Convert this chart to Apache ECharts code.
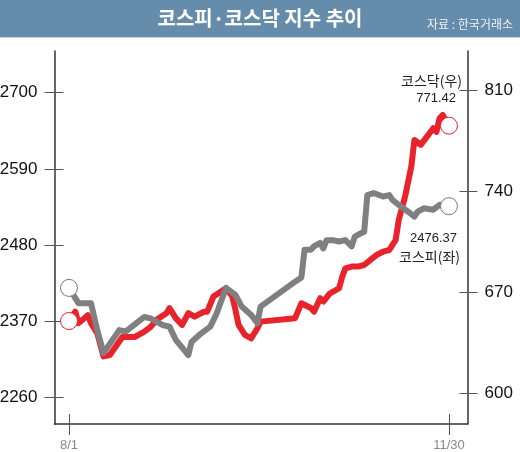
<!DOCTYPE html>
<html>
<head>
<meta charset="utf-8">
<script src="https://cdn.jsdelivr.net/npm/echarts@6/dist/echarts.min.js"></script>
<style>
  html, body { margin: 0; padding: 0; background: #fff; }
  #chart { width: 520px; height: 452px; }
</style>
</head>
<body>
<div id="chart"></div>
<script>
// Days since 8/1 (x) and index values
const kospiDays = [0,3,5,7,9,11,16,18,24,26,30,32,34,38,39,42,45,47,50,53,55,58,60,61,72,74,75,77,78,80,81,82,84,86,88,90,91,93,94,95,97,100,102,103,105,108,110,111,113,116,118,121];
const kospi = [2418,2396,2396,2396,2357,2324,2357,2355,2376,2374,2364,2362,2343,2321,2340,2352,2362,2381,2418,2408,2391,2379,2367,2391,2427,2433,2473,2473,2478,2483,2475,2487,2487,2485,2487,2478,2492,2497,2499,2552,2555,2550,2552,2545,2538,2528,2521,2528,2533,2531,2538,2536];

const kosdaqDays = [0,2,3,6,7,9,11,13,17,21,24,26,28,31,32,34,36,38,40,43,44,46,50,52,53,54,56,58,60,61,72,74,77,78,80,81,83,86,87,88,90,92,94,96,98,100,102,103,104,105,107,109,110,112,114,116,117,118,119,121];
const kosdaq = [650,656.5,648.5,654,648.5,641.5,625.5,626.5,639,639,642.7,646,651,655.4,659,652,647.3,655.4,653,656.5,656.5,667,672.7,667,657.7,647.3,640.4,638,645,649.6,652,662.3,659,656.5,665.8,663.5,669,672.7,680.7,686.5,687.7,687.7,688.8,692.3,695.8,698,699.2,702.7,706,720,736,757,775.4,772,777.7,783.5,781,790.4,792.7,785.3];

const leftTicks = [2260, 2370, 2480, 2590, 2700];
const rightTicks = [600, 670, 740, 810];
const xTickDays = [0, 121];
const xTickLabels = ['8/1', '11/30'];

const titleText = '코스피·코스닥 지수 추이';
const sourceText = '자료 : 한국거래소';
const kosdaqName = '코스닥(우)';
const kosdaqLast = '771.42';
const kospiName = '코스피(좌)';
const kospiLast = '2476.37';

const RED = '#e8232b';
const GRAY = '#808080';
const NUMFONT = '"Liberation Sans", Arial, sans-serif';
const KRFONT = '"Noto Sans CJK KR", sans-serif';

const chart = echarts.init(document.getElementById('chart'), null, { renderer: 'canvas' });

function endSym(n) {
  return function (v, p) { return (p.dataIndex === 0 || p.dataIndex === n - 1) ? 17 : 0; };
}
function plain(v) { return String(v); }

const xRange = { min: -4.62, max: 126.9 };
const leftRange = { min: 2221.4, max: 2760.2 };
const rightRange = { min: 578.7, max: 837.0 };

const option = {
  animation: false,
  backgroundColor: '#fff',
  grid: { left: 54.5, right: 52.5, top: 51, bottom: 28, containLabel: false, outerBoundsMode: 'none' },
  xAxis: [
    {
      type: 'value', position: 'bottom', min: xRange.min, max: xRange.max,
      axisLine: { show: true, onZero: false, lineStyle: { color: '#333', width: 1.5 } },
      axisTick: { show: true, customValues: xTickDays, length: 11, lineStyle: { color: '#555', width: 1 } },
      axisLabel: {
        show: true, customValues: xTickDays, margin: 15, color: '#888', fontSize: 13, fontFamily: NUMFONT,
        formatter: function (v) { const i = xTickDays.indexOf(v); return i >= 0 ? xTickLabels[i] : ''; }
      },
      splitLine: { show: false }
    },
    {
      type: 'value', position: 'bottom', min: xRange.min, max: xRange.max,
      axisLine: { show: false, onZero: false },
      axisTick: { show: true, inside: true, customValues: xTickDays, length: 10, lineStyle: { color: '#555', width: 1 } },
      axisLabel: { show: false },
      splitLine: { show: false }
    }
  ],
  yAxis: [
    {
      type: 'value', position: 'left', min: leftRange.min, max: leftRange.max,
      axisLine: { show: true, onZero: false, lineStyle: { color: '#333', width: 1.5 } },
      axisTick: { show: true, customValues: leftTicks, length: 10, lineStyle: { color: '#555', width: 1 } },
      axisLabel: { show: true, customValues: leftTicks, formatter: plain, margin: 17, color: '#111', fontSize: 17, fontFamily: NUMFONT },
      splitLine: { show: false }
    },
    {
      type: 'value', position: 'right', min: rightRange.min, max: rightRange.max,
      axisLine: { show: true, onZero: false, lineStyle: { color: '#333', width: 1.5 } },
      axisTick: { show: true, customValues: rightTicks, length: 10, lineStyle: { color: '#555', width: 1 } },
      axisLabel: { show: true, customValues: rightTicks, formatter: plain, margin: 17, color: '#111', fontSize: 17, fontFamily: NUMFONT },
      splitLine: { show: false }
    },
    {
      type: 'value', position: 'left', min: leftRange.min, max: leftRange.max,
      axisLine: { show: false, onZero: false },
      axisTick: { show: true, inside: true, customValues: leftTicks, length: 9, lineStyle: { color: '#555', width: 1 } },
      axisLabel: { show: false },
      splitLine: { show: false }
    },
    {
      type: 'value', position: 'right', min: rightRange.min, max: rightRange.max,
      axisLine: { show: false, onZero: false },
      axisTick: { show: true, inside: true, customValues: rightTicks, length: 8, lineStyle: { color: '#555', width: 1 } },
      axisLabel: { show: false },
      splitLine: { show: false }
    }
  ],
  series: [
    {
      name: '코스닥', type: 'line', xAxisIndex: 0, yAxisIndex: 1, z: 2,
      data: kosdaqDays.map(function (d, i) { return [d, kosdaq[i]]; }),
      lineStyle: { color: RED, width: 6, join: 'round', cap: 'round' },
      symbol: 'circle', symbolSize: endSym(kosdaq.length), showSymbol: true, showAllSymbol: true,
      itemStyle: { color: '#fff', borderColor: RED, borderWidth: 1 },
      emphasis: { disabled: true }, silent: true
    },
    {
      name: '코스피', type: 'line', xAxisIndex: 0, yAxisIndex: 0, z: 3,
      data: kospiDays.map(function (d, i) { return [d, kospi[i]]; }),
      lineStyle: { color: GRAY, width: 6, join: 'round', cap: 'round' },
      symbol: 'circle', symbolSize: endSym(kospi.length), showSymbol: true, showAllSymbol: true,
      itemStyle: { color: '#fff', borderColor: '#777', borderWidth: 1 },
      emphasis: { disabled: true }, silent: true
    }
  ],
  graphic: [
    { type: 'rect', z: 0, shape: { x: 0, y: 0, width: 520, height: 37 }, style: { fill: '#658cab' } },
    { type: 'rect', z: 0, shape: { x: 0, y: 37, width: 520, height: 1 }, style: { fill: '#c9d6e0' } },
    { type: 'text', x: 260, y: 18, style: { text: titleText, fill: '#fff', font: 'bold 20px ' + KRFONT, align: 'center', verticalAlign: 'middle' } },
    { type: 'text', x: 513, y: 24, style: { text: sourceText, fill: '#eef3f7', font: '12px ' + KRFONT, align: 'right', verticalAlign: 'middle' } },
    { type: 'text', x: 462, y: 81, style: { text: kosdaqName, fill: '#222', font: '14px ' + KRFONT, align: 'right', verticalAlign: 'middle' } },
    { type: 'text', x: 456, y: 98, style: { text: kosdaqLast, fill: '#222', font: '13px ' + NUMFONT, align: 'right', verticalAlign: 'middle' } },
    { type: 'text', x: 457, y: 238, style: { text: kospiLast, fill: '#222', font: '13px ' + NUMFONT, align: 'right', verticalAlign: 'middle' } },
    { type: 'text', x: 460, y: 257, style: { text: kospiName, fill: '#222', font: '14px ' + KRFONT, align: 'right', verticalAlign: 'middle' } }
  ]
};

chart.setOption(option);
</script>
</body>
</html>
